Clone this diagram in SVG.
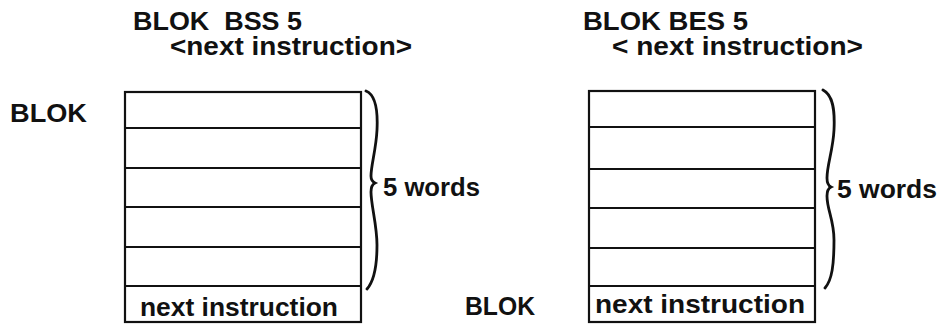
<svg xmlns="http://www.w3.org/2000/svg" width="941" height="325" viewBox="0 0 941 325">
<style>
text{font-family:"Liberation Sans",Arial,sans-serif;font-weight:bold;fill:#111;font-size:25px}
.box{fill:#fff;stroke:#111;stroke-width:2.2}
.ln{stroke:#111;stroke-width:2.2}
.brace{fill:none;stroke:#111;stroke-width:2.8;stroke-linecap:round}
</style>
<rect width="941" height="325" fill="#fff"/>
<g id="left-title">
<text x="133" y="30" textLength="169" lengthAdjust="spacingAndGlyphs" xml:space="preserve">BLOK  BSS 5</text>
<text x="170" y="55" textLength="242" lengthAdjust="spacingAndGlyphs">&lt;next instruction&gt;</text>
</g>
<g id="left-label"><text x="10" y="122" textLength="77" lengthAdjust="spacingAndGlyphs">BLOK</text></g>
<g id="left-block">
<rect class="box" x="125" y="92" width="236" height="230"/>
<line class="ln" x1="125" y1="128" x2="361" y2="128"/>
<line class="ln" x1="125" y1="168" x2="361" y2="168"/>
<line class="ln" x1="125" y1="207" x2="361" y2="207"/>
<line class="ln" x1="125" y1="247" x2="361" y2="247"/>
<line class="ln" x1="125" y1="286" x2="361" y2="286"/>
<text x="140" y="316" textLength="198" lengthAdjust="spacingAndGlyphs">next instruction</text>
</g>
<g id="left-brace">
<path class="brace" d="M366,91 C376,95 378,110 377,130 C376,150 371,165 371,176 Q371,181 375,183 Q371,185 371,192 C371,205 377,225 377,245 C377,265 375,280 367,289"/>
<text x="383" y="196" textLength="97" lengthAdjust="spacingAndGlyphs">5 words</text>
</g>
<g id="right-title">
<text x="583" y="30" textLength="165" lengthAdjust="spacingAndGlyphs">BLOK BES 5</text>
<text x="612" y="55" textLength="251" lengthAdjust="spacingAndGlyphs" xml:space="preserve">&lt; next instruction&gt;</text>
</g>
<g id="right-label"><text x="465" y="315" textLength="70" lengthAdjust="spacingAndGlyphs">BLOK</text></g>
<g id="right-block">
<rect class="box" x="589" y="91" width="226" height="231"/>
<line class="ln" x1="589" y1="127" x2="815" y2="127"/>
<line class="ln" x1="589" y1="169" x2="815" y2="169"/>
<line class="ln" x1="589" y1="208" x2="815" y2="208"/>
<line class="ln" x1="589" y1="248" x2="815" y2="248"/>
<line class="ln" x1="589" y1="286" x2="815" y2="286"/>
<text x="595" y="313" textLength="210" lengthAdjust="spacingAndGlyphs">next instruction</text>
</g>
<g id="right-brace">
<path class="brace" d="M823,90 C833,95 835,110 834,130 C833,150 827,165 827,178 Q827,185 831,187 Q827,189 827,196 C827,210 834,220 834,240 C834,265 832,280 825,288"/>
<text x="837" y="198" textLength="100" lengthAdjust="spacingAndGlyphs">5 words</text>
</g>
<g id="connectors"></g>
</svg>
